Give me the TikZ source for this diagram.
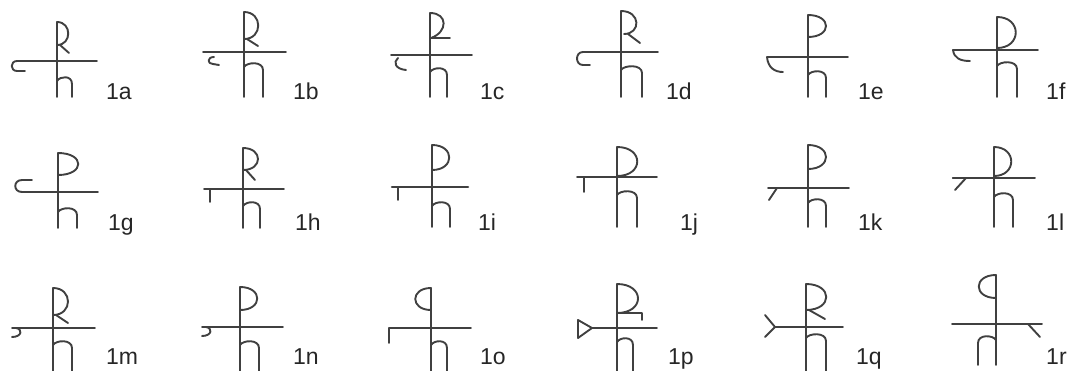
\documentclass[tikz,border=0pt]{standalone}
\usepackage{fontspec}
\setmainfont{Liberation Sans}
\usepackage{tikz,xcolor}

\begin{document}
\begin{tikzpicture}[x=1pt,y=-1pt,
    traco/.style={line width=1.9pt,draw=black!75,line cap=round,line join=round},
    rotulo/.style={anchor=base west,inner sep=0pt,text=black!85,font=\fontsize{23}{23}\selectfont}]
      \useasboundingbox (0,0) rectangle (1071,370);

      % ---------- Linha 1 ----------
      % 1a
      \draw[traco] (57,22) -- (57,97);
      \draw[traco] (97,61) -- (17,61) .. controls (10,61) and (10,71) .. (17,71) -- (25,71);
      \draw[traco] (57,22) .. controls (72,22) and (72,45) .. (57,45);
      \draw[traco] (60,45) -- (69,53);
      \draw[traco] (57,81) .. controls (60,76) and (72,75) .. (72,84) -- (72,97);
      \node[rotulo] (r1a) at (106,99) {1a};

      % 1b
      \draw[traco] (244,12) -- (244,97);
      \draw[traco] (203,52) -- (286,52);
      \draw[traco] (214,57) .. controls (207,57) and (207,64) .. (213,64) -- (219,65);
      \draw[traco] (244,12) .. controls (263,12) and (263,39) .. (244,39);
      \draw[traco] (247,39) -- (258,46);
      \draw[traco] (244,67) .. controls (247,62) and (263,61) .. (263,70) -- (263,97);
      \node[rotulo] (r1b) at (293,99) {1b};

      % 1c
      \draw[traco] (430,13) -- (430,97);
      \draw[traco] (391,55) -- (472,55);
      \draw[traco] (398,58) .. controls (393,62) and (395,69) .. (406,70);
      \draw[traco] (430,13) .. controls (448,13) and (448,32) .. (431,38) -- (450,38);
      \draw[traco] (430,72) .. controls (433,67) and (447,66) .. (447,75) -- (447,97);
      \node[rotulo] (r1c) at (480,99) {1c};

      % 1d
      \draw[traco] (621,11) -- (621,97);
      \draw[traco] (658,52) -- (583,52) .. controls (575,52) and (575,65) .. (583,65) -- (590,65);
      \draw[traco] (621,11) .. controls (641,11) and (641,34) .. (624,34);
      \draw[traco] (628,34) -- (640,43);
      \draw[traco] (621,70) .. controls (624,65) and (642,64) .. (642,73) -- (642,97);
      \node[rotulo] (r1d) at (666,99) {1d};

      % 1e
      \draw[traco] (808,15) -- (808,97);
      \draw[traco] (848,57) -- (767,57) .. controls (768,68) and (775,72) .. (783,72);
      \draw[traco] (808,15) .. controls (832,15) and (832,37) .. (808,37);
      \draw[traco] (808,75) .. controls (811,70) and (826,69) .. (826,78) -- (826,97);
      \node[rotulo] (r1e) at (858,99) {1e};

      % 1f
      \draw[traco] (997,17) -- (997,97);
      \draw[traco] (1038,50) -- (953,50) .. controls (954,58) and (960,61) .. (970,61);
      \draw[traco] (997,17) .. controls (1022,17) and (1022,48) .. (997,48);
      \draw[traco] (997,66) .. controls (1000,61) and (1017,60) .. (1017,69) -- (1017,97);
      \node[rotulo] (r1f) at (1046,99) {1f};

      % ---------- Linha 2 ----------
      % 1g
      \draw[traco] (58,153) -- (58,228);
      \draw[traco] (98,192) -- (22,192) .. controls (13,192) and (13,180) .. (22,180) -- (32,180);
      \draw[traco] (58,153) .. controls (85,153) and (85,175) .. (58,175);
      \draw[traco] (58,212) .. controls (61,207) and (77,206) .. (77,215) -- (77,228);
      \node[rotulo] (r1g) at (108,230) {1g};

      % 1h
      \draw[traco] (243,148) -- (243,228);
      \draw[traco] (204,189) -- (284,189);
      \draw[traco] (210,189) -- (210,202);
      \draw[traco] (243,148) .. controls (263,148) and (263,170) .. (243,170);
      \draw[traco] (246,170) -- (255,180);
      \draw[traco] (243,206) .. controls (246,201) and (260,200) .. (260,209) -- (260,228);
      \node[rotulo] (r1h) at (295,230) {1h};

      % 1i
      \draw[traco] (432,145) -- (432,227);
      \draw[traco,line width=2.6pt] (392,187) -- (468,187);
      \draw[traco] (398,187) -- (398,200);
      \draw[traco] (432,145) .. controls (455,145) and (455,170) .. (432,170);
      \draw[traco] (432,206) .. controls (435,201) and (450,200) .. (450,209) -- (450,227);
      \node[rotulo] (r1i) at (478,230) {1i};

      % 1j
      \draw[traco] (617,147) -- (617,227);
      \draw[traco] (577,177) -- (657,177);
      \draw[traco] (584,177) -- (584,192);
      \draw[traco] (617,147) .. controls (644,147) and (644,176) .. (617,176);
      \draw[traco] (617,195) .. controls (620,190) and (637,189) .. (637,198) -- (637,227);
      \node[rotulo] (r1j) at (680,230) {1j};

      % 1k
      \draw[traco] (808,145) -- (808,227);
      \draw[traco] (768,188) -- (849,188);
      \draw[traco] (777,188) -- (769,200);
      \draw[traco] (808,145) .. controls (832,145) and (832,169) .. (808,169);
      \draw[traco] (808,203) .. controls (811,198) and (826,197) .. (826,206) -- (826,227);
      \node[rotulo] (r1k) at (858,230) {1k};

      % 1l
      \draw[traco] (994,147) -- (994,227);
      \draw[traco] (953,178) -- (1035,178);
      \draw[traco,line width=2.5pt] (953,178) -- (994,178);
      \draw[traco] (966,178) -- (955,190);
      \draw[traco] (994,147) .. controls (1017,147) and (1017,176) .. (994,176);
      \draw[traco] (994,197) .. controls (997,192) and (1013,191) .. (1013,200) -- (1013,227);
      \node[rotulo] (r1l) at (1046,230) {1l};

      % ---------- Linha 3 ----------
      % 1m
      \draw[traco] (53,288) -- (53,372);
      \draw[traco] (12,328) -- (95,328);
      \draw[traco] (16,328) .. controls (23,329) and (22,337) .. (12,337);
      \draw[traco] (53,288) .. controls (73,288) and (73,315) .. (53,315);
      \draw[traco] (56,315) -- (68,323);
      \draw[traco] (53,345) .. controls (56,340) and (72,339) .. (72,348) -- (72,372);
      \node[rotulo] (r1m) at (106,364) {1m};

      % 1n
      \draw[traco] (240,287) -- (240,372);
      \draw[traco] (202,327) -- (283,327);
      \draw[traco] (206,327) .. controls (213,328) and (212,336) .. (202,336);
      \draw[traco] (240,287) .. controls (263,287) and (263,310) .. (240,310);
      \draw[traco] (240,345) .. controls (243,340) and (259,339) .. (259,348) -- (259,372);
      \node[rotulo] (r1n) at (293,364) {1n};

      % 1o
      \draw[traco] (431,288) -- (431,372);
      \draw[traco] (389,343) -- (389,328) -- (471,328);
      \draw[traco] (431,288) .. controls (410,288) and (410,310) .. (431,310);
      \draw[traco] (431,345) .. controls (434,340) and (447,339) .. (447,348) -- (447,372);
      \node[rotulo] (r1o) at (480,364) {1o};

      % 1p
      \draw[traco] (617,284) -- (617,372);
      \draw[traco] (592,328) -- (657,328);
      \draw[traco] (578,320) -- (592,328) -- (578,338) -- cycle;
      \draw[traco] (617,284) .. controls (645,284) and (645,313) .. (617,313) -- (642,313) -- (642,320);
      \draw[traco] (617,342) .. controls (620,337) and (633,336) .. (633,345) -- (633,372);
      \node[rotulo] (r1p) at (668,364) {1p};

      % 1q
      \draw[traco] (806,284) -- (806,372);
      \draw[traco] (775,327) -- (843,327);
      \draw[traco] (765,315) -- (775,327) -- (765,337);
      \draw[traco] (806,284) .. controls (833,284) and (833,310) .. (806,310);
      \draw[traco] (809,310) -- (825,319);
      \draw[traco] (806,338) .. controls (809,333) and (826,332) .. (826,341) -- (826,372);
      \node[rotulo] (r1q) at (856,364) {1q};

      % 1r
      \draw[traco] (996,275) -- (996,365);
      \draw[traco] (952,324) -- (1042,324);
      \draw[traco] (1028,324) -- (1040,337);
      \draw[traco] (996,275) .. controls (973,275) and (973,298) .. (996,298);
      \draw[traco] (996,340) .. controls (993,335) and (978,334) .. (978,343) -- (978,365);
      \node[rotulo] (r1r) at (1046,364) {1r};
\end{tikzpicture}
\end{document}
